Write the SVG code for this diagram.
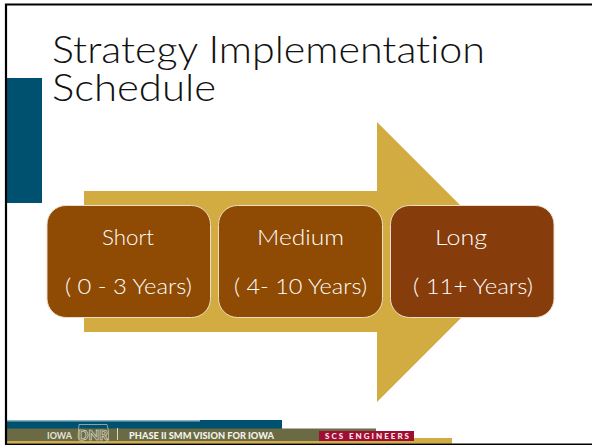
<svg xmlns="http://www.w3.org/2000/svg" width="592" height="445" viewBox="0 0 592 445">
<style>
.t{font-family:"Lato","Liberation Sans",sans-serif;font-weight:300;font-variant-ligatures:none}
.n{font-size:22px;fill:#fff;text-anchor:middle}
.b{stroke:#ecdcc8;stroke-width:1}
.f{font-family:"Lato","Liberation Sans",sans-serif;font-weight:900;text-anchor:middle}
</style>
<rect width="592" height="445" fill="#fff"/>
<rect x="7" y="78" width="35" height="125" fill="#00506f"/>
<text class="t" x="52" y="62.500" font-size="37" fill="#111" textLength="433" lengthAdjust="spacingAndGlyphs">Strategy Implementation</text>
<text class="t" x="52" y="100.500" font-size="37" fill="#111" textLength="164" lengthAdjust="spacingAndGlyphs">Schedule</text>
<polygon points="84,191 377,191 377,122 517,262 377,402 377,332 84,332" fill="#d3ac41"/>
<g id="short">
<rect class="b" x="47" y="205.500" width="163.500" height="112" rx="19" fill="#8f4b04"/>
<text class="t n" x="128" y="245" textLength="52" lengthAdjust="spacingAndGlyphs">Short</text>
<text class="t n" x="128.500" y="294" textLength="127" lengthAdjust="spacingAndGlyphs">( 0 - 3 Years)</text>
</g>
<g id="medium">
<rect class="b" x="218.500" y="205.500" width="164" height="112" rx="19" fill="#8f4b04"/>
<text class="t n" x="300.500" y="245" textLength="87" lengthAdjust="spacingAndGlyphs">Medium</text>
<text class="t n" x="300.500" y="294" textLength="133" lengthAdjust="spacingAndGlyphs">( 4- 10 Years)</text>
</g>
<g id="long">
<rect class="b" x="390.500" y="205.500" width="163.500" height="112" rx="19" fill="#873c0c"/>
<text class="t n" x="461" y="245" textLength="52" lengthAdjust="spacingAndGlyphs">Long</text>
<text class="t n" x="473" y="294" textLength="120" lengthAdjust="spacingAndGlyphs">( 11+ Years)</text>
</g>
<g id="connectors"></g>
<rect x="7" y="420" width="275" height="9" fill="#00506f"/>
<rect x="7" y="420" width="193" height="1.500" fill="#8fb4c4"/>
<rect x="7" y="428.500" width="369" height="13" fill="#6a6a45"/>
<rect x="7" y="441" width="445" height="2.500" fill="#d3ac41"/>
<rect x="414" y="438" width="38" height="3.500" fill="#d3ac41"/>
<rect x="319" y="431" width="95" height="10" fill="#a00d32"/>
<path d="M79 424.500H107L108.500 431V440L105 443H85L78 438Z" fill="none" stroke="#c9c9b8" stroke-width=".7"/>
<text class="f" x="59.500" y="438.500" font-size="8.500" style="font-weight:700" fill="#e4e4d8" textLength="25" lengthAdjust="spacingAndGlyphs">IOWA</text>
<text class="f" x="93" y="439.500" font-size="13" fill="#6a6a45" stroke="#e4e4d8" stroke-width=".6" textLength="30" lengthAdjust="spacingAndGlyphs">DNR</text>
<rect x="117" y="428" width="1" height="12" fill="#d8d8c8"/>
<text class="f" x="201.500" y="438.500" font-size="8.500" fill="#f3f3e8" textLength="145" lengthAdjust="spacingAndGlyphs">PHASE II SMM VISION FOR IOWA</text>
<text class="f" x="367" y="439" font-size="8" fill="#f7e8e8" textLength="84" lengthAdjust="spacing">SCS ENGINEERS</text>
<path d="M600 4.500H6V444.500H600" fill="none" stroke="#000" stroke-width="2.200"/>
</svg>
